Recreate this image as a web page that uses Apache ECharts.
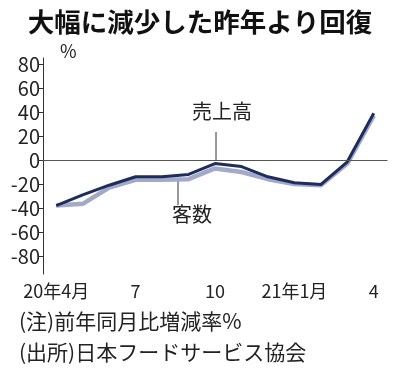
<!DOCTYPE html>
<html>
<head>
<meta charset="utf-8">
<script src="https://cdn.jsdelivr.net/npm/echarts@6/dist/echarts.min.js"></script>
<style>
  html, body { margin: 0; padding: 0; background: #fff; }
  #chart { width: 400px; height: 376px; }
</style>
</head>
<body>
<div id="chart"></div>
<script>
// months Apr 2020 .. Apr 2021
var months = ['2020-04','2020-05','2020-06','2020-07','2020-08','2020-09','2020-10',
              '2020-11','2020-12','2021-01','2021-02','2021-03','2021-04'];
var monthLabels = {'2020-04': '20年4月', '2020-07': '7', '2020-10': '10', '2021-01': '21年1月', '2021-04': '4'};
// 売上高 (sales), 客数 (customers), year-on-year %
var sales     = [-38, -29, -21, -14, -14, -12, -3, -5.5, -14, -19, -20.5, -1.5, 39];
var customers = [-38, -36.5, -23, -16.5, -16.5, -16, -7, -10, -16, -20, -21, -3, 37];
var yTicks = [-80, -60, -40, -20, 0, 20, 40, 60, 80];

var font = '"Noto Sans CJK JP", "Noto Sans", sans-serif';
var chart = echarts.init(document.getElementById('chart'));

var option = {
    animation: false,
    textStyle: { fontFamily: font },
    title: {
        text: '大幅に減少した昨年より回復',
        left: 'center',
        top: 4,
        textStyle: { fontSize: 26.5, fontWeight: 'bold', color: '#111', fontFamily: font }
    },
    grid: { left: 43, right: 13, top: 58, bottom: 102 },
    xAxis: {
        type: 'category',
        data: months,
        boundaryGap: true,
        axisLine: { lineStyle: { color: '#333', width: 1 } },
        axisTick: { alignWithLabel: true, inside: true, length: 5, lineStyle: { color: '#333' } },
        axisLabel: {
            interval: 0,
            margin: 8,
            fontSize: 18,
            color: '#222',
            formatter: function (v) { return monthLabels[v] || ''; }
        }
    },
    yAxis: {
        type: 'value',
        min: -95,
        max: 85,
        splitLine: { show: false },
        axisLine: { show: true, lineStyle: { color: '#333', width: 1 } },
        axisTick: { show: true, length: 4, customValues: yTicks, lineStyle: { color: '#333' } },
        axisLabel: { customValues: yTicks, fontSize: 20, color: '#222', margin: 3 }
    },
    series: [
        {
            name: '客数',
            type: 'line',
            data: customers,
            symbol: 'none',
            z: 2,
            lineStyle: { color: '#a3a9c6', width: 4.5 }
        },
        {
            name: '売上高',
            type: 'line',
            data: sales,
            symbol: 'none',
            z: 3,
            lineStyle: { color: '#1c2d5e', width: 3 },
            markLine: {
                silent: true,
                symbol: 'none',
                label: { show: false },
                lineStyle: { color: '#555', width: 1, type: 'solid' },
                data: [{ yAxis: 0 }]
            }
        }
    ],
    graphic: [
        { type: 'text', left: 60, top: 42, style: { text: '%', fontSize: 18, fill: '#222', fontFamily: font } },
        // 売上高 annotation
        { type: 'line', shape: { x1: 216, y1: 132, x2: 216, y2: 161 }, style: { stroke: '#333', lineWidth: 1 } },
        { type: 'text', x: 192, y: 101, style: { text: '売上高', fontSize: 20, fill: '#222', fontFamily: font } },
        // 客数 annotation
        { type: 'line', shape: { x1: 178, y1: 180, x2: 178, y2: 205 }, style: { stroke: '#333', lineWidth: 1 } },
        { type: 'text', x: 172, y: 204, style: { text: '客数', fontSize: 20, fill: '#222', fontFamily: font } },
        // notes
        { type: 'text', x: 19, y: 311, style: { text: '(注)前年同月比増減率%', fontSize: 21, fill: '#222', fontFamily: font } },
        { type: 'text', x: 19, y: 342, style: { text: '(出所)日本フードサービス協会', fontSize: 21, fill: '#222', fontFamily: font } }
    ]
};

chart.setOption(option);
</script>
</body>
</html>
